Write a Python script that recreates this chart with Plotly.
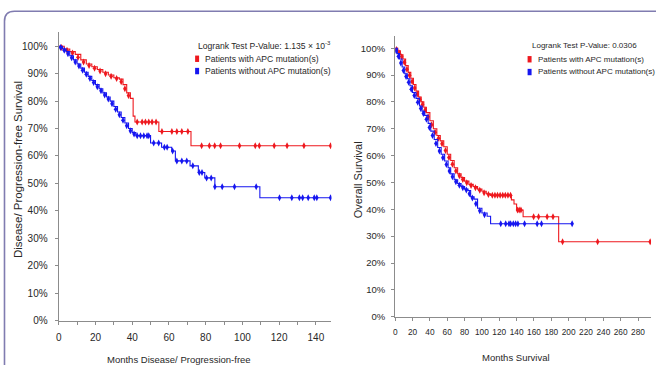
import plotly.graph_objects as go

# ---------------- data ----------------
# Left panel: Disease/Progression-free survival (months, % surviving)
pfs_red_t = [0, 3, 6, 9, 12, 15, 18, 21, 24, 27, 30, 33, 35, 37, 39, 40.5, 41.5, 54.5, 72, 148]
pfs_red_s = [100, 99, 98, 97, 95, 93.5, 92.5, 91.5, 90.5, 89.5, 88.5, 88, 86, 83, 81, 74.5, 72.4, 68.9, 63.7, 63.7]
pfs_red_cens_t = [1.5, 4.5, 7.5, 10.5, 13.5, 16.5, 19.5, 22.5, 25.5, 28.5, 31.5, 34, 36, 38,
                  42.7, 45.4, 47.2, 49, 50.8, 53, 56.2, 61.6, 64.3, 67, 70.3,
                  77.8, 82, 84.9, 88.1, 98.4, 107, 109.2, 117.3, 124.3, 133.5, 148]
pfs_red_cens_s = [99.5, 98.5, 97.5, 96, 94.2, 93, 92, 91, 90, 89, 88.2, 87, 84.5, 82,
                  72.4, 72.4, 72.4, 72.4, 72.4, 72.4, 68.9, 68.9, 68.9, 68.9, 68.9,
                  63.7, 63.7, 63.7, 63.7, 63.7, 63.7, 63.7, 63.7, 63.7, 63.7, 63.7]

pfs_blue_t = [0, 2, 4, 6, 8, 10, 12, 14, 16, 18, 20, 22, 24, 26, 28, 30, 32, 34, 36, 38, 40, 42,
              50, 56, 61.5, 63.5, 71.5, 76, 79.5, 85, 109.5, 148]
pfs_blue_s = [100, 99, 98, 96.5, 95, 93.5, 92, 90.5, 89, 87.5, 86, 84.5, 83, 81.5, 80, 78, 76, 74,
              72, 70, 68.5, 67.4, 64.7, 63.2, 61.8, 58.2, 56.4, 54, 52, 48.8, 44.8, 44.8]
pfs_blue_cens_t = [1, 3, 5, 7, 9, 11, 13, 15, 17, 19, 21, 23, 25, 27, 29, 31, 33, 35, 37, 39, 41,
                   42.7, 44.5, 46.3, 48.1, 49, 51.7, 54.4, 57.5, 59, 62, 64.3, 67, 69.7, 73,
                   76.5, 78, 80.5, 83, 85, 89, 95.7, 107.5,
                   120.2, 126.9, 131, 132.8, 135.8, 139.1, 140.5, 148]
pfs_blue_cens_s = [99.5, 98.5, 97.2, 95.8, 94.2, 92.8, 91.2, 89.8, 88.2, 86.8, 85.2, 83.8, 82.2, 80.8,
                   79, 77, 75, 73, 71, 69.2, 68,
                   67.4, 67.4, 67.4, 67.4, 67.4, 64.7, 64.7, 63.2, 63.2, 61.8, 58.2, 58.2, 58.2, 56.4,
                   54, 54, 52, 52, 48.8, 48.8, 48.8, 48.8,
                   44.8, 44.8, 44.8, 44.8, 44.8, 44.8, 44.8, 44.8]

# Right panel: Overall survival (months, % surviving)
os_red_t = [0, 3, 6, 9, 12, 15, 18, 21, 24, 27, 30, 33, 36, 40, 44, 48, 52, 56, 60, 64, 68, 72,
            76, 80, 85, 90, 95, 100, 105, 110, 134, 137, 140, 147.5, 188.5, 294]
os_red_s = [100, 99, 97.5, 96, 93.5, 91, 88.8, 86.5, 84, 81.8, 80, 78, 76, 73, 70, 67.5, 65.5,
            63.3, 60.5, 58.2, 55.5, 53.2, 51.8, 50.5, 49.3, 48.5, 47.5, 46.7, 45.8, 45.2, 43.5,
            42, 39.7, 37.2, 27.9, 27.9]
os_red_cens_t = [1.5, 4.5, 7.5, 10.5, 13.5, 16.5, 19.5, 22.5, 25.5, 28.5, 31.5, 34.5, 38, 42, 46,
                 50, 54, 58, 62, 66, 70, 74, 78, 82.5, 87.5, 92.5, 97.5, 102.5, 107.5,
                 112, 115, 118, 121, 124, 127, 130, 133, 141, 143, 145,
                 159.6, 165.3, 175.2, 182, 193, 233.4, 294]
os_red_cens_s = [99.5, 98.2, 96.8, 94.8, 92.2, 89.9, 87.6, 85.2, 82.9, 80.9, 79, 77, 74.5, 71.5,
                 68.7, 66.5, 64.4, 61.9, 59.3, 56.8, 54.3, 52.5, 51.1, 49.9, 48.9, 48, 47.1, 46.2,
                 45.5, 45.2, 45.2, 45.2, 45.2, 45.2, 45.2, 45.2, 45.2, 39.7, 39.7, 39.7,
                 37.2, 37.2, 37.2, 37.2, 27.9, 27.9, 27.9]

os_blue_t = [0, 2.5, 5, 8, 11, 14, 17, 20, 24, 28, 31, 34, 38, 41, 45, 49, 53, 57, 61, 64, 68,
             72, 76, 80, 84, 87, 91, 95, 100, 106, 110, 204]
os_blue_s = [100, 98, 96, 93, 90.5, 88.6, 86, 83.5, 81.3, 78.5, 76.5, 75, 72, 69.1, 66, 63, 60.5,
             58, 55.5, 53.2, 51, 49.6, 48.5, 47.5, 47, 44.7, 43.8, 40.4, 38.6, 37.4, 34.6, 34.6]
os_blue_cens_t = [1.2, 3.7, 6.5, 9.5, 12.5, 15.5, 18.5, 22, 26, 29.5, 32.5, 36, 39.5, 43, 47, 51,
                  55, 59, 62.5, 66, 70, 74, 78, 82, 85.5, 89, 93, 97.5, 103,
                  121.7, 127.4, 131.2, 133.1, 136.2, 138.9, 141.5, 149.2, 163.7, 168.7, 204]
os_blue_cens_s = [99, 97, 94.5, 91.7, 89.5, 87.3, 84.7, 82.4, 79.9, 77.5, 75.7, 73.5, 70.5, 67.5,
                  64.5, 61.7, 59.2, 56.7, 54.3, 52.1, 50.3, 49, 48, 47.2, 45.8, 44.2, 42.1, 39.5,
                  38,
                  34.6, 34.6, 34.6, 34.6, 34.6, 34.6, 34.6, 34.6, 34.6, 34.6, 34.6]

pct_ticks = list(range(0, 101, 10))
pfs_xticks = list(range(0, 141, 20))
os_xticks = list(range(0, 281, 20))

# ---------------- styling ----------------
W, H = 656, 365
RED = "rgb(238,24,30)"
BLUE = "rgb(22,22,240)"
AX = "rgb(140,140,140)"
TXT = "rgb(40,40,40)"
FONT = "Liberation Sans, Arial, sans-serif"

def px(x):
    return x / W

def py(y):
    return 1 - y / H

fig = go.Figure()

def add_curve(t, s, ct, cs, color, xa, ya):
    fig.add_trace(go.Scatter(x=t, y=s, mode="lines", line=dict(color=color, width=1.1, shape="hv"),
                             xaxis=xa, yaxis=ya, showlegend=False, hoverinfo="skip"))
    fig.add_trace(go.Scatter(x=ct, y=cs, mode="markers",
                             marker=dict(color=color, size=5, symbol="diamond-tall"),
                             xaxis=xa, yaxis=ya, showlegend=False, hoverinfo="skip"))

add_curve(pfs_red_t, pfs_red_s, pfs_red_cens_t, pfs_red_cens_s, RED, "x", "y")
add_curve(pfs_blue_t, pfs_blue_s, pfs_blue_cens_t, pfs_blue_cens_s, BLUE, "x", "y")
add_curve(os_red_t, os_red_s, os_red_cens_t, os_red_cens_s, RED, "x2", "y2")
add_curve(os_blue_t, os_blue_s, os_blue_cens_t, os_blue_cens_s, BLUE, "x2", "y2")

def axstyle(size):
    return dict(showline=True, linecolor=AX, linewidth=1.3, ticks="outside", ticklen=3,
                tickcolor=AX, tickfont=dict(family=FONT, size=size, color=TXT),
                showgrid=False, zeroline=False, fixedrange=True, tickangle=0)

ytext = [f"{v}%" for v in pct_ticks]

fig.update_layout(
    width=W, height=H, margin=dict(l=0, r=0, t=0, b=0),
    paper_bgcolor="white", plot_bgcolor="white", showlegend=False,
    xaxis=dict(domain=[px(56), px(330)], range=[0, 148.5], tickvals=pfs_xticks,
               minor=dict(tickvals=list(range(10, 150, 20)), ticks="outside", ticklen=3, tickcolor=AX),
               anchor="y", ticklabelstandoff=4, **axstyle(10)),
    yaxis=dict(domain=[1 - 326 / H, 1 - 33 / H], range=[0, 105], anchor="x",
               tickvals=pct_ticks, ticktext=ytext, ticklabelstandoff=5, **axstyle(10)),
    xaxis2=dict(domain=[px(394), px(651)], range=[0, 295], tickvals=os_xticks, anchor="y2",
                ticklabelstandoff=4, **axstyle(8.3)),
    yaxis2=dict(domain=[1 - 322 / H, 1 - 37 / H], range=[0, 104.4], anchor="x2",
                tickvals=pct_ticks, ticktext=ytext, ticklabelstandoff=4, **axstyle(9.5)),
)

ann = []
def text(x, y, s, size=10, angle=0, xanchor="center", color=TXT):
    ann.append(dict(x=px(x), y=py(y), xref="paper", yref="paper", text=s, showarrow=False,
                    textangle=angle, xanchor=xanchor, yanchor="middle",
                    font=dict(family=FONT, size=size, color=color)))

# axis titles
text(15, 172, "Disease/ Progression-free Survival", size=11.5, angle=-90)
text(357, 183, "Overall Survival", size=11, angle=-90)
text(177, 366, "Months Disease/ Progression-free", size=9.5)
text(515, 363, "Months Survival", size=9.5)

# legends
text(194, 46, "Logrank Test P-Value: 1.135 × 10<sup>-3</sup>", size=8.6, xanchor="left")
text(201, 60, "Patients with APC mutation(s)", size=8.6, xanchor="left")
text(201, 72.5, "Patients without APC mutation(s)", size=8.6, xanchor="left")
text(529, 46.5, "Logrank Test P-Value: 0.0306", size=8, xanchor="left")
text(535, 60.5, "Patients with APC mutation(s)", size=8, xanchor="left")
text(535, 73, "Patients without APC mutation(s)", size=8, xanchor="left")
fig.update_layout(annotations=ann)

shapes = []
def rect(x0, y0, x1, y1, color):
    shapes.append(dict(type="rect", xref="paper", yref="paper", x0=px(x0), x1=px(x1),
                       y0=py(y1), y1=py(y0), fillcolor=color, line=dict(width=0)))

rect(193, 56.5, 197, 63, RED)
rect(193, 69, 197, 75.5, BLUE)
rect(527, 57, 531, 63.5, RED)
rect(527, 70, 531, 76.5, BLUE)

# rounded frame around the figure
r = 10
path = (f"M {px(1.5)},{py(380)} L {px(1.5)},{py(11.5 + r)} "
        f"Q {px(1.5)},{py(11.5)} {px(1.5 + r)},{py(11.5)} L {px(670)},{py(11.5)}")
shapes.append(dict(type="path", xref="paper", yref="paper", path=path,
                   line=dict(color="rgb(128,124,176)", width=1.6)))
fig.update_layout(shapes=shapes)

fig.write_html("out.html", config={"displayModeBar": False},
               post_script="document.body.style.margin='0px';")
